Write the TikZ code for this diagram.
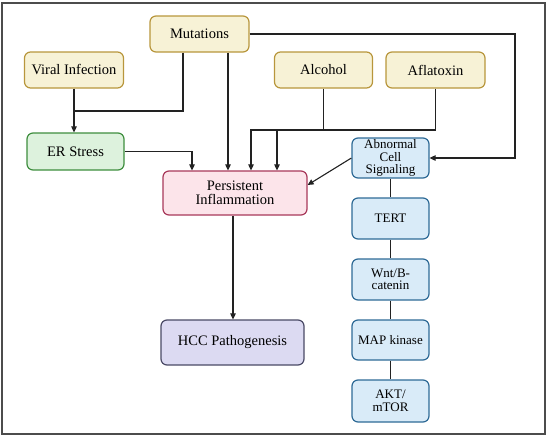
\documentclass[tikz,border=0pt]{standalone}
\usepackage{fontspec}
\setmainfont{Liberation Serif}
\usetikzlibrary{arrows.meta,calc}
\definecolor{yfill}{HTML}{F7F2D6}
\definecolor{ydraw}{HTML}{B8963C}
\definecolor{gfill}{HTML}{DDF2DD}
\definecolor{gdraw}{HTML}{3E8E3E}
\definecolor{pfill}{HTML}{FCE4EA}
\definecolor{pdraw}{HTML}{A8385A}
\definecolor{vfill}{HTML}{DCDAF2}
\definecolor{vdraw}{HTML}{4A4A66}
\definecolor{bfill}{HTML}{D9EBF8}
\definecolor{bdraw}{HTML}{2E6A96}
\definecolor{lnc}{HTML}{222222}
\tikzset{
  box/.style={rectangle, rounded corners=6pt, line width=1.2pt, align=center,
    inner sep=0pt, font=\rmfamily\fontsize{14.5}{14}\selectfont},
  ybox/.style={box, fill=yfill, draw=ydraw},
  gbox/.style={box, fill=gfill, draw=gdraw},
  pbox/.style={box, fill=pfill, draw=pdraw},
  vbox/.style={box, fill=vfill, draw=vdraw},
  bbox/.style={box, fill=bfill, draw=bdraw, font=\rmfamily\fontsize{13}{12.5}\selectfont,
    minimum width=77pt},
  conn/.style={draw=lnc, line width=1.1pt},
  arr/.style={conn, -{Triangle[length=6pt,width=5.5pt]}},
}
\begin{document}
\begin{tikzpicture}[x=1pt,y=-1pt]
\useasboundingbox (0,0) rectangle (550,437);
\draw[line width=1.5pt, draw=black!70] (2,3) rectangle (545,434);

\node[ybox, minimum width=99pt, minimum height=36pt] (mut) at (199.5,34) {Mutations};
\node[ybox, minimum width=99pt, minimum height=36pt] (vir) at (74,70) {Viral Infection};
\node[ybox, minimum width=98pt, minimum height=36pt] (alc) at (323.5,70) {Alcohol};
\node[ybox, minimum width=99pt, minimum height=36pt] (afl) at (435.5,70) {Aflatoxin};
\node[gbox, minimum width=97pt, minimum height=37pt] (er) at (75.5,151.5) {ER Stress};
\node[pbox, minimum width=144pt, minimum height=44pt] (pers) at (235,193) {Persistent\\Inflammation};
\node[vbox, minimum width=143pt, minimum height=45pt] (hcc) at (232.5,342.5) {HCC Pathogenesis};
\node[bbox, minimum height=40pt] (abn) at (390.5,158) {Abnormal\\Cell\\Signaling};
\node[bbox, minimum height=41pt] (tert) at (390.5,218.5) {TERT};
\node[bbox, minimum height=41pt] (wnt) at (390.5,279.5) {Wnt/B-\\catenin};
\node[bbox, minimum height=40pt] (map) at (390.5,340) {MAP kinase};
\node[bbox, minimum height=42pt] (akt) at (390.5,401) {AKT/\\mTOR};

\coordinate (j1) at (74,111);
\coordinate (m1) at (183,0);
\coordinate (m2) at (228,0);
\coordinate (p1) at (192,0);
\coordinate (p3) at (251,0);
\coordinate (p4) at (277,0);
\coordinate (ra) at (515,0);
\coordinate (hx) at (233,0);

% Viral -> ER, Mutations joins
\draw[arr] (vir.south) -- (vir.south |- er.north);
\draw[conn] (mut.south -| m1) |- (j1);
% Mutations -> Persistent
\draw[arr] (mut.south -| m2) -- (pers.north -| m2);
% Mutations -> Abnormal
\draw[arr] (mut.east) -| (ra |- abn.east) -- (abn.east);
% ER -> Persistent
\draw[arr] (er.east) -| (pers.north -| p1);
% Alcohol -> Persistent
\draw[arr] (alc.south) |- ($(p3)+(0,130)$) -- (pers.north -| p3);
% Aflatoxin -> Persistent
\draw[arr] (afl.south) |- ($(p4)+(0,130)$) -- (pers.north -| p4);
% Abnormal -> Persistent
\draw[arr] (abn.west) -- ($(pers.east)+(0,-8)$);
% Persistent -> HCC
\draw[arr] (pers.south -| hx) -- (hcc.north -| hx);
% signaling chain
\draw[conn] (abn) -- (tert);
\draw[conn] (tert) -- (wnt);
\draw[conn] (wnt) -- (map);
\draw[conn] (map) -- (akt);
\end{tikzpicture}
\end{document}
